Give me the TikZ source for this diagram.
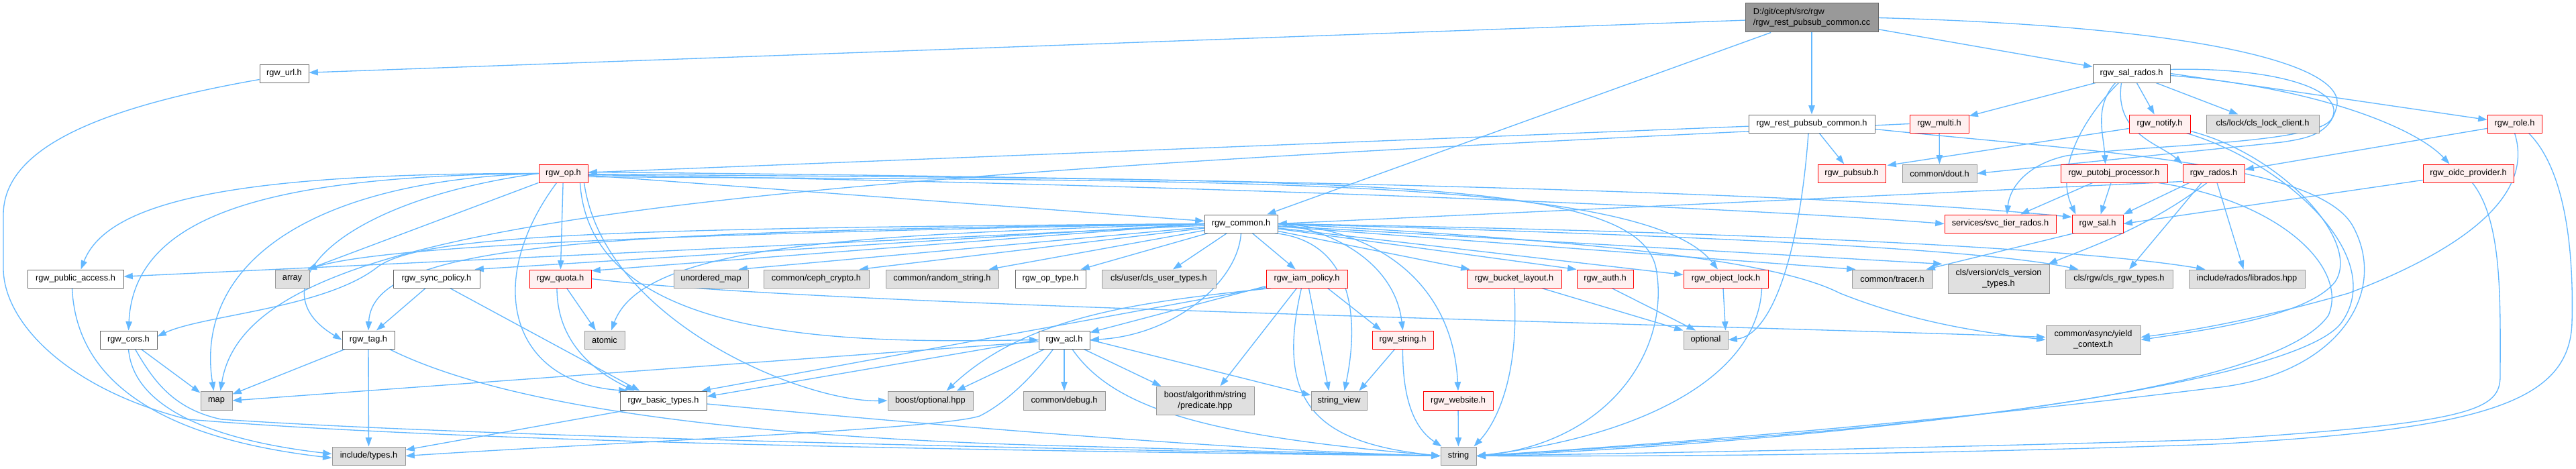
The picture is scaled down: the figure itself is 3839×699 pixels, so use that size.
\documentclass[tikz,border=0pt]{standalone}
\usepackage{fontspec}
\setmainfont{Liberation Sans}
\usetikzlibrary{arrows.meta,calc}
\pgfdeclarelayer{bg}
\pgfdeclarelayer{edges}
\pgfsetlayers{bg,edges,main}
\definecolor{ec}{HTML}{63B8FF}
\definecolor{rbd}{HTML}{FF0000}
\definecolor{rfl}{HTML}{FFF0F0}
\definecolor{gbd}{HTML}{999999}
\definecolor{gfl}{HTML}{E0E0E0}
\definecolor{wbd}{HTML}{666666}
\definecolor{rootfl}{HTML}{999999}
\newcommand{\bx}[7]{\node[#6, minimum width={(#4-#2)*0.75pt}, minimum height={(#5-#3)*0.75pt}] (#1) at ({(#2+#4)/2},{(#3+#5)/2}) {#7};}
\tikzset{
 nd/.style={draw, line width=0.75pt, inner sep=0pt, font=\fontsize{9.6}{12}\selectfont, align=center, text=black},
 wn/.style={nd, draw=wbd, fill=white},
 gn/.style={nd, draw=gbd, fill=gfl},
 rn/.style={nd, draw=rbd, fill=rfl},
 rootn/.style={nd, draw=wbd, fill=rootfl, align=left},
 lnk/.style={draw=ec, line width=1pt, -{Triangle[length=10pt,width=7pt]}}
}
\begin{document}
\begin{tikzpicture}[x=0.75pt,y=-0.75pt]
\useasboundingbox (0,0) rectangle (3839,699);
\begin{pgfonlayer}{bg}
\fill[white] (0,0) rectangle (3839,699);
\end{pgfonlayer}
% nodes
\bx{root}{2601}{5}{2799}{48}{rootn}{D:/git/ceph/src/rgw\\/rgw\_rest\_pubsub\_common.cc}
\bx{url}{387}{96}{460}{123}{wn}{rgw\_url.h}
\bx{salrados}{3119}{96}{3234}{123}{wn}{rgw\_sal\_rados.h}
\bx{rpch}{2606}{171}{2794}{198}{wn}{rgw\_rest\_pubsub\_common.h}
\bx{multi}{2846}{171}{2934}{198}{rn}{rgw\_multi.h}
\bx{notify}{3173}{171}{3264}{198}{rn}{rgw\_notify.h}
\bx{clslock}{3288}{171}{3456}{198}{gn}{cls/lock/cls\_lock\_client.h}
\bx{role}{3707}{171}{3788}{198}{rn}{rgw\_role.h}
\bx{op}{803}{245}{876}{272}{rn}{rgw\_op.h}
\bx{pubsub}{2709}{245}{2810}{272}{rn}{rgw\_pubsub.h}
\bx{dout}{2835}{245}{2946}{272}{gn}{common/dout.h}
\bx{putobj}{3071}{245}{3230}{272}{rn}{rgw\_putobj\_processor.h}
\bx{rados}{3253}{245}{3345}{272}{rn}{rgw\_rados.h}
\bx{oidc}{3611}{245}{3746}{272}{rn}{rgw\_oidc\_provider.h}
\bx{common}{1795}{320}{1904}{347}{wn}{rgw\_common.h}
\bx{svctier}{2898}{320}{3064}{347}{rn}{services/svc\_tier\_rados.h}
\bx{sal}{3088}{320}{3164}{347}{rn}{rgw\_sal.h}
\bx{pubacc}{41}{402}{184}{429}{wn}{rgw\_public\_access.h}
\bx{array}{410}{402}{461}{429}{gn}{array}
\bx{syncpol}{586}{402}{715}{429}{wn}{rgw\_sync\_policy.h}
\bx{quota}{789}{402}{881}{429}{rn}{rgw\_quota.h}
\bx{umap}{1004}{402}{1115}{429}{gn}{unordered\_map}
\bx{crypto}{1138}{402}{1295}{429}{gn}{common/ceph\_crypto.h}
\bx{randstr}{1320}{402}{1488}{429}{gn}{common/random\_string.h}
\bx{optype}{1513}{402}{1618}{429}{wn}{rgw\_op\_type.h}
\bx{clsuser}{1642}{402}{1812}{429}{gn}{cls/user/cls\_user\_types.h}
\bx{iam}{1887}{402}{2008}{429}{rn}{rgw\_iam\_policy.h}
\bx{bucket}{2186}{402}{2327}{429}{rn}{rgw\_bucket\_layout.h}
\bx{auth}{2350}{402}{2434}{429}{rn}{rgw\_auth.h}
\bx{objlock}{2509}{402}{2635}{429}{rn}{rgw\_object\_lock.h}
\bx{tracer}{2760}{402}{2880}{429}{gn}{common/tracer.h}
\bx{clsver}{2903}{394}{3054}{437}{gn}{cls/version/cls\_version\\\_types.h}
\bx{clsrgw}{3078}{402}{3238}{429}{gn}{cls/rgw/cls\_rgw\_types.h}
\bx{librados}{3262}{402}{3435}{429}{gn}{include/rados/librados.hpp}
\bx{cors}{149}{493}{234}{520}{wn}{rgw\_cors.h}
\bx{tag}{510}{493}{588}{520}{wn}{rgw\_tag.h}
\bx{atomic}{871}{493}{931}{520}{gn}{atomic}
\bx{acl}{1548}{493}{1624}{520}{wn}{rgw\_acl.h}
\bx{strh}{2045}{493}{2136}{520}{rn}{rgw\_string.h}
\bx{optional}{2509}{493}{2575}{520}{gn}{optional}
\bx{yield}{3049}{485}{3190}{528}{gn}{common/async/yield\\\_context.h}
\bx{map}{299}{583}{346}{611}{gn}{map}
\bx{basic}{924}{583}{1053}{611}{wn}{rgw\_basic\_types.h}
\bx{bopt}{1323}{583}{1450}{611}{gn}{boost/optional.hpp}
\bx{debug}{1525}{583}{1647}{611}{gn}{common/debug.h}
\bx{pred}{1723}{576}{1869}{618}{gn}{boost/algorithm/string\\/predicate.hpp}
\bx{sview}{1954}{583}{2037}{611}{gn}{string\_view}
\bx{website}{2121}{583}{2225}{611}{rn}{rgw\_website.h}
\bx{types}{495}{666}{604}{693}{gn}{include/types.h}
\bx{string}{2147}{666}{2200}{693}{gn}{string}
\begin{pgfonlayer}{edges}
% root
\draw[lnk] (root) -- (url);
\draw[lnk] (root) -- (common);
\draw[lnk] (root) -- (rpch);
\draw[lnk] (root) -- (salrados);
\draw[lnk] (root.east) .. controls (3300,40) and (3500,100) .. (3482,160) .. controls (3472,200) and (3440,206) .. (3400,212) -- (dout.east);
% rest_pubsub_common.h
\draw[lnk] (rpch) -- (op);
\draw[lnk] (rpch) -- (pubsub);
\draw[lnk] ($(rpch.south)+(-5,0)$) .. controls (2682,380) and (2640,500) .. (optional.east);
\draw[lnk] ($(rpch.east)+(0,8)$) .. controls (3100,225) and (3460,240) .. (3508,340) .. controls (3560,440) and (3480,560) .. (3300,578) .. controls (2800,640) and (2350,670) .. (string.east);
% sal_rados
\draw[lnk] (salrados) -- (multi);
\draw[lnk] (salrados) -- (notify);
\draw[lnk] (salrados) -- (clslock);
\draw[lnk] (salrados.east) -- ($(role.west)+(0,-6)$);
\draw[lnk] ($(salrados.east)+(0,3)$) .. controls (3450,130) and (3600,190) .. ($(oidc.north)+(-28,0)$);
\draw[lnk] ($(salrados.south)+(-15,0)$) .. controls (3150,200) and (3220,215) .. (rados.north west);
\draw[lnk] ($(salrados.south)+(-24,0)$) .. controls (3120,160) and (3135,200) .. ($(putobj.north)+(-13,0)$);
\draw[lnk] ($(salrados.south)+(-19,0)$) .. controls (3110,170) and (3060,250) .. ($(sal.north west)+(6,0)$);
\draw[lnk] ($(salrados.east)+(0,-6)$) .. controls (3380,100) and (3495,130) .. (3476,175) .. controls (3460,215) and (3200,215) .. (3080,232) .. controls (3020,245) and (2995,280) .. ($(svctier.north)+(10,0)$);
% multi
\draw[lnk] (multi) -- (dout);
\draw[lnk] (multi.west) .. controls (1000,270) and (370,330) .. ($(map.north)+(6,0)$);
% notify
\draw[lnk] (notify) -- ($(pubsub.north east)+(2,2)$);
\draw[lnk] ($(notify.south east)+(-6,0)$) .. controls (3400,240) and (3560,380) .. (3490,480) .. controls (3420,580) and (2700,660) .. (string.east);
\draw[lnk] ($(notify.south east)+(0,-3)$) .. controls (3400,230) and (3520,360) .. (3480,420) .. controls (3440,470) and (3300,490) .. (yield.east);
% role
\draw[lnk] (role) -- ($(rados.east)+(0,-6)$);
\draw[lnk] ($(role.south east)+(-20,0)$) .. controls (3830,260) and (3835,400) .. (3833,480) .. controls (3830,600) and (3700,640) .. (3300,662) .. controls (2800,680) and (2400,680) .. (string.east);
\draw[lnk] (role.south) .. controls (3780,300) and (3650,380) .. (3500,437) .. controls (3350,480) and (3250,495) .. ($(yield.east)+(0,-4)$);
% oidc
\draw[lnk] (oidc) -- (sal.east);
\draw[lnk] ($(oidc.south)+(6,0)$) .. controls (3730,330) and (3726,450) .. (3726,560) .. controls (3726,610) and (3690,630) .. (3300,655) .. controls (2800,670) and (2400,676) .. (string.east);
% putobj
\draw[lnk] (putobj) -- ($(svctier.north)+(30,0)$);
\draw[lnk] (putobj) -- (sal);
\draw[lnk] ($(putobj.south east)+(-14,0)$) .. controls (3400,300) and (3500,400) .. (3470,470) .. controls (3380,600) and (2700,650) .. (string.east);
% rados
\draw[lnk] ($(rados.south west)+(0,-2)$) -- (common.east);
\draw[lnk] ($(rados.south west)+(10,0)$) -- (sal.north east);
\draw[lnk] ($(rados.south)+(-10,0)$) .. controls (3200,340) and (3110,370) .. ($(clsver.north east)+(-2,0)$);
\draw[lnk] ($(rados.south)+(-18,0)$) -- ($(clsrgw.north)+(15,0)$);
\draw[lnk] ($(rados.south)+(5,0)$) -- ($(librados.north)+(-5,0)$);
% sal
\draw[lnk] ($(sal.south west)+(4,0)$) -- ($(tracer.north east)+(-10,0)$);
% op
\draw[lnk] (op.west) .. controls (350,258) and (160,300) .. ($(pubacc.north)+(8,0)$);
\draw[lnk] (op.west) .. controls (400,262) and (200,320) .. (cors.north);
\draw[lnk] (op.west) .. controls (450,270) and (290,400) .. ($(map.north)+(-4,0)$);
\draw[lnk] (op.west) .. controls (500,300) and (380,430) .. (tag.west);
\draw[lnk] (op) -- ($(array.north east)+(-3,0)$);
\draw[lnk] (op) -- (quota);
\draw[lnk] ($(op.south)+(-10,0)$) .. controls (720,420) and (760,570) .. ($(basic.north west)+(12,0)$);
\draw[lnk] ($(op.south east)+(-12,0)$) .. controls (880,520) and (1300,510) .. (acl.west);
\draw[lnk] ($(op.south east)+(-6,0)$) .. controls (900,480) and (1200,600) .. (bopt.west);
\draw[lnk] (op) -- (common);
\draw[lnk] ($(op.east)+(0,-2)$) .. controls (1800,265) and (2700,285) .. ($(sal.west)+(0,-10)$);
\draw[lnk] ($(op.east)+(0,2)$) .. controls (1800,275) and (2600,310) .. (svctier.west);
\draw[lnk] ($(op.east)+(0,5)$) .. controls (1800,270) and (2450,260) .. ($(objlock.north)+(-12,0)$);
\draw[lnk] ($(op.east)+(0,1)$) .. controls (2000,270) and (2440,260) .. (2468,400) .. controls (2490,520) and (2400,660) .. (string.east);
% common
\draw[lnk] (common) -- (pubacc);
\draw[lnk] (common.west) .. controls (900,350) and (560,370) .. ($(array.north east)+(-3,0)$);
\draw[lnk] (common.west) -- ($(syncpol.north east)+(-8,0)$);
\draw[lnk] (common.west) -- ($(quota.north east)+(0,2)$);
\draw[lnk] (common) -- ($(umap.north east)+(-15,0)$);
\draw[lnk] (common) -- ($(crypto.north east)+(-15,0)$);
\draw[lnk] (common) -- ($(randstr.north east)+(-15,0)$);
\draw[lnk] (common) -- ($(optype.north east)+(-8,0)$);
\draw[lnk] (common) -- (clsuser);
\draw[lnk] (common) -- (iam);
\draw[lnk] (common) -- ($(bucket.north west)+(5,0)$);
\draw[lnk] (common) -- (auth.north west);
\draw[lnk] (common) -- ($(objlock.west)+(0,-6)$);
\draw[lnk] (common) -- ($(tracer.north west)+(6,0)$);
\draw[lnk] (common) -- ($(clsver.north west)+(-8,0)$);
\draw[lnk] (common.east) .. controls (2500,350) and (2950,370) .. ($(clsrgw.north west)+(20,0)$);
\draw[lnk] (common.east) .. controls (2600,345) and (3100,370) .. ($(librados.north west)+(25,0)$);
\draw[lnk] (common.east) .. controls (2400,360) and (2650,390) .. (2742,437) .. controls (2850,480) and (2950,495) .. (yield.west);
\draw[lnk] (common.west) .. controls (900,340) and (620,350) .. (560,400) .. controls (480,460) and (300,470) .. ($(cors.east)+(0,-5)$);
\draw[lnk] (common.west) .. controls (900,345) and (555,360) .. (tag.north);
\draw[lnk] (common.west) .. controls (1300,350) and (960,360) .. ($(atomic.north)+(10,0)$);
\draw[lnk] (common.south) .. controls (1845,420) and (1750,500) .. (acl.east);
\draw[lnk] (common.east) .. controls (2000,345) and (2080,400) .. (strh.north);
\draw[lnk] ($(common.south east)+(-5,0)$) .. controls (2020,360) and (2025,480) .. ($(sview.north)+(8,0)$);
\draw[lnk] (common.east) .. controls (2050,340) and (2165,420) .. (website.north);
% iam
\draw[lnk] ($(iam.south west)+(0,-3)$) -- ($(acl.north east)+(0,3)$);
\draw[lnk] ($(iam.south west)+(0,-1)$) -- ($(basic.north east)+(-8,0)$);
\draw[lnk] ($(iam.south west)+(8,0)$) .. controls (1700,450) and (1530,470) .. ($(bopt.north east)+(-40,0)$);
\draw[lnk] ($(iam.south)+(-15,0)$) -- ($(pred.north east)+(-51,0)$);
\draw[lnk] ($(iam.south)+(3,0)$) -- ($(sview.north)+(-15,0)$);
\draw[lnk] ($(iam.south east)+(-30,0)$) -- ($(strh.north west)+(14,0)$);
\draw[lnk] ($(iam.south)+(-8,0)$) .. controls (1900,600) and (1960,660) .. (string.west);
% acl
\draw[lnk] (acl) -- (map.east);
\draw[lnk] ($(acl.south west)+(22,0)$) .. controls (1540,560) and (1500,600) .. (1460,620) .. controls (1400,640) and (900,660) .. (types.east);
\draw[lnk] (acl) -- ($(bopt.north east)+(-25,0)$);
\draw[lnk] (acl) -- (debug);
\draw[lnk] (acl) -- ($(pred.north west)+(8,0)$);
\draw[lnk] (acl.east) -- ($(sview.west)+(0,-8)$);
\draw[lnk] ($(acl.south)+(12,0)$) .. controls (1660,610) and (1800,650) .. (string.west);
\draw[lnk] (acl.west) -- ($(basic.east)+(0,-6)$);
% string.h, website
\draw[lnk] (strh) -- ($(sview.north east)+(-12,0)$);
\draw[lnk] (strh.south) .. controls (2090,600) and (2110,640) .. ($(string.north west)+(2,0)$);
\draw[lnk] (website) -- (string);
% bucket, auth, object_lock
\draw[lnk] (bucket.south) .. controls (2265,560) and (2230,630) .. ($(string.north east)+(-4,0)$);
\draw[lnk] ($(bucket.south east)+(-30,0)$) -- (optional.north west);
\draw[lnk] ($(auth.south)+(10,0)$) -- ($(optional.north)+(-15,0)$);
\draw[lnk] ($(objlock.south)+(-4,0)$) -- ($(optional.north east)+(-4,0)$);
\draw[lnk] ($(objlock.south east)+(-10,0)$) .. controls (2620,560) and (2450,650) .. (string.east);
% quota, sync_policy
\draw[lnk] (quota) -- ($(atomic.north)+(-13,0)$);
\draw[lnk] ($(quota.south)+(-5,0)$) .. controls (830,520) and (900,560) .. ($(basic.north west)+(22,0)$);
\draw[lnk] (quota.east) .. controls (1200,455) and (2400,480) .. ($(yield.west)+(0,-4)$);
\draw[lnk] (syncpol) -- ($(tag.north)+(12,0)$);
\draw[lnk] ($(syncpol.south)+(20,0)$) -- ($(basic.north west)+(30,0)$);
% tag, cors, public_access, url, basic
\draw[lnk] (tag) -- (map);
\draw[lnk] (tag) -- (types);
\draw[lnk] ($(tag.south east)+(-8,0)$) .. controls (780,620) and (1200,655) .. (1600,665) -- (string.west);
\draw[lnk] (cors) -- ($(map.north west)+(0,3)$);
\draw[lnk] (cors.south) .. controls (200,620) and (350,660) .. ($(types.west)+(0,-3)$);
\draw[lnk] ($(cors.south)+(10,0)$) .. controls (230,570) and (260,610) .. (330,625) .. controls (700,650) and (1500,668) .. (string.west);
\draw[lnk] ($(pubacc.south)+(-5,0)$) .. controls (115,600) and (300,660) .. ($(types.west)+(0,3)$);
\draw[lnk] ($(url.south west)+(0,-5)$) .. controls (150,160) and (5,220) .. (5,320) -- (5,400) .. controls (5,480) and (100,580) .. (280,625) .. controls (700,660) and (1500,672) .. (string.west);
\draw[lnk] ($(basic.south west)+(10,0)$) -- ($(types.north east)+(0,5)$);
\draw[lnk] ($(basic.east)+(0,5)$) .. controls (1300,625) and (1800,670) .. (string.west);
\end{pgfonlayer}
\end{tikzpicture}
\end{document}
